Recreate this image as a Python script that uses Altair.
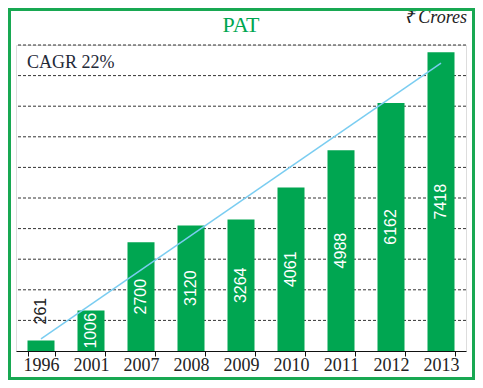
import altair as alt
import pandas as pd

years = ["1996", "2001", "2007", "2008", "2009", "2010", "2011", "2012", "2013"]
pat = [261, 1006, 2700, 3120, 3264, 4061, 4988, 6162, 7418]
trend_years = ["1996", "2013"]
trend_values = [300, 7150]
grid_values = [760 * k for k in range(1, 11)]

GREEN = "#00A651"
df = pd.DataFrame({"year": years, "value": pat})
trend = pd.DataFrame({"year": trend_years, "value": trend_values})
grid = pd.DataFrame({"g": grid_values})

xenc = alt.X("year:N", sort=years, title=None,
             scale=alt.Scale(paddingInner=0.46, paddingOuter=0.23),
             axis=alt.Axis(labelAngle=0, labelFont="Liberation Serif", labelFontSize=18,
                           labelColor="#222222", labelPadding=0, tickBand="extent",
                           tickSize=5, tickColor="#111111", domainColor="#111111",
                           domainWidth=1, tickWidth=1, grid=False))
yscale = alt.Scale(domain=[0, 7600], nice=False)

base = alt.Chart(df)

gridlines = alt.Chart(grid).mark_rule(color="#333333", strokeDash=[3, 2], strokeWidth=1).encode(
    y=alt.Y("g:Q", scale=yscale, axis=None),
)

bars = base.mark_bar(color=GREEN).encode(
    x=xenc,
    y=alt.Y("value:Q", scale=yscale, axis=None),
)

labels_in = base.transform_filter("datum.value >= 1000").transform_calculate(
    mid="datum.value / 2"
).mark_text(angle=270, color="white", font="Liberation Sans", fontSize=16,
            align="center", baseline="middle").encode(
    x=alt.X("year:N", sort=years),
    y=alt.Y("mid:Q", scale=yscale, axis=None),
    text="value:Q",
)

labels_out = base.transform_filter("datum.value < 1000").mark_text(
    angle=270, color="#222222", font="Liberation Sans", fontSize=16,
    align="left", baseline="middle", dx=16).encode(
    x=alt.X("year:N", sort=years),
    y=alt.Y("value:Q", scale=yscale, axis=None),
    text="value:Q",
)

line = alt.Chart(trend).mark_line(color="#7ACDF1", strokeWidth=1.5).encode(
    x=alt.X("year:N", sort=years),
    y=alt.Y("value:Q", scale=yscale, axis=None),
)

title = alt.Chart(alt.Data(values=[{"t": "PAT"}])).mark_text(
    font="Liberation Serif", fontSize=22, color=GREEN, align="center",
    baseline="alphabetic").encode(x=alt.value(225), y=alt.value(-13), text="t:N")

cagr = alt.Chart(alt.Data(values=[{"t": "CAGR 22%"}])).mark_text(
    font="Liberation Serif", fontSize=18, color="#1f2a38", align="left",
    baseline="alphabetic").encode(x=alt.value(11), y=alt.value(23), text="t:N")

unit = alt.Chart(alt.Data(values=[{"t": "₹ Crores"}])).mark_text(
    font="Liberation Serif", fontSize=18, fontStyle="italic", color="#222222",
    align="right", baseline="alphabetic").encode(x=alt.value(451), y=alt.value(-22), text="t:N")

border = alt.Chart(alt.Data(values=[{"a": 1}])).mark_rect(
    filled=False, stroke="#18A852", strokeWidth=3).encode(
    x=alt.value(-6.5), x2=alt.value(457.5), y=alt.value(-35.5), y2=alt.value(333.5))

chart = alt.layer(gridlines, bars, line, labels_in, labels_out, title, cagr, unit, border).properties(
    width=450, height=306,
    autosize=alt.AutoSizeParams(type="none"),
    padding={"left": 8, "top": 37, "right": 9, "bottom": 29},
).configure_view(stroke=None).configure(background="white")

chart.save("out.html", embed_options={"renderer": "svg", "actions": False})
